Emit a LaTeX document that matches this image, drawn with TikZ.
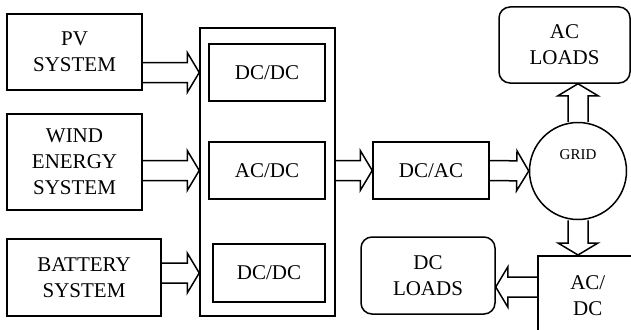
\documentclass[tikz,border=0pt]{standalone}
\usepackage{fontspec}
\setmainfont{Liberation Serif}
\usetikzlibrary{calc}

% hollow block arrow from #1 to #2
\newcommand{\blockarrow}[2]{%
    \coordinate (headbase) at ($(#2)!12pt!(#1)$);
    \draw[arrowline] ($(#1)!10pt!90:(#2)$) -- ($(headbase)!10pt!-90:(#1)$)
        -- ($(headbase)!20pt!-90:(#1)$) -- (#2)
        -- ($(headbase)!20pt!90:(#1)$) -- ($(headbase)!10pt!90:(#1)$)
        -- ($(#1)!10pt!-90:(#2)$);
}

\begin{document}
\begin{tikzpicture}[
    x=1pt, y=-1pt,
    every node/.style={font=\fontsize{21}{26}\selectfont, align=center},
    block/.style={draw, line width=1.5pt, inner sep=0pt},
    load/.style={block, rounded corners=11pt},
    arrowline/.style={line width=1.5pt, line join=miter}
]
    \useasboundingbox (0,0) rectangle (631,329);

    % sources
    \node[block, minimum width=135pt, minimum height=76pt] (pv) at (74.5,52) {PV\\SYSTEM};
    \node[block, minimum width=135pt, minimum height=96pt] (wind) at (74.5,162) {WIND\\ENERGY\\SYSTEM};
    \node[block, minimum width=154pt, minimum height=77pt] (batt) at (84,277.5) {BATTERY\\SYSTEM};

    % converter stack
    \node[block, minimum width=135pt, minimum height=288pt] (conv) at (267.5,172) {};
    \node[block, minimum width=116pt, minimum height=57pt] (dcdcA) at (267,72.5) {DC/DC};
    \node[block, minimum width=116pt, minimum height=57pt] (acdcA) at (267,170.5) {AC/DC};
    \node[block, minimum width=112pt, minimum height=58pt] (dcdcB) at (269,273) {DC/DC};

    \node[block, minimum width=116pt, minimum height=57pt] (dcac) at (431,170.5) {DC/AC};

    % grid and loads
    \node[block, circle, minimum size=97pt] (grid) at (578,171) {};
    \node[font=\fontsize{15}{18}\selectfont] (gridlabel) at ($(grid.center)+(0,-16)$) {GRID};
    \node[load, minimum width=131pt, minimum height=76pt] (acload) at (564.5,45) {AC\\LOADS};
    \node[load, minimum width=134pt, minimum height=77pt] (dcload) at (428,275.5) {DC\\LOADS};
    \node[block, anchor=north west, minimum width=100pt, minimum height=80pt] (acdc) at (537,255) {AC/\\DC};

    % arrows
    \coordinate (pvout) at (pv.east |- dcdcA);
    \coordinate (pvin) at (conv.west |- dcdcA);
    \blockarrow{pvout}{pvin}
    \coordinate (windout) at (wind.east |- acdcA);
    \coordinate (windin) at (conv.west |- acdcA);
    \blockarrow{windout}{windin}
    \coordinate (battout) at (batt.east |- dcdcB);
    \coordinate (battin) at (conv.west |- dcdcB);
    \blockarrow{battout}{battin}
    \coordinate (convout) at (conv.east |- dcac);
    \blockarrow{convout}{dcac.west}
    \blockarrow{dcac.east}{grid.west}
    \coordinate (acloadin) at (grid.north |- acload.south);
    \blockarrow{grid.north}{acloadin}
    \coordinate (acdcin) at (grid.south |- acdc.north);
    \blockarrow{grid.south}{acdcin}
    \coordinate (acdcout) at (acdc.west |- 0,287);
    \coordinate (dcloadin) at (dcload.east |- 0,287);
    \blockarrow{acdcout}{dcloadin}
\end{tikzpicture}
\end{document}
